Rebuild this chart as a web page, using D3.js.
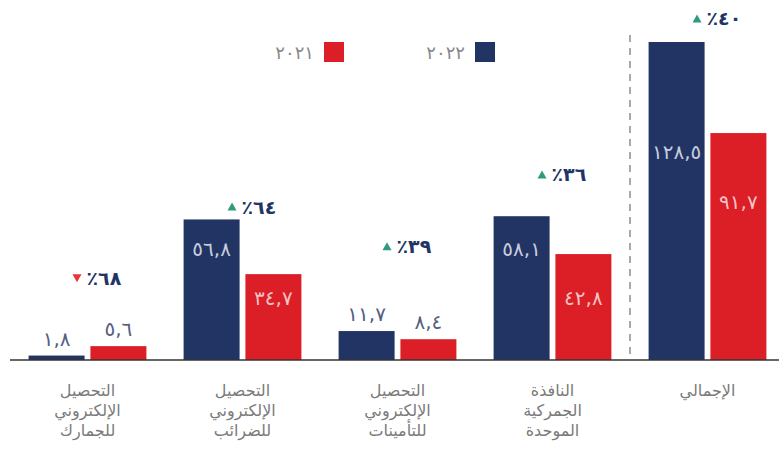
<!DOCTYPE html>
<html>
<head>
<meta charset="utf-8">
<script src="https://cdnjs.cloudflare.com/ajax/libs/d3/7.8.5/d3.min.js"></script>
<style>
  body { margin: 0; background: #fff; }
  svg text { font-family: "DejaVu Sans", sans-serif; }
</style>
</head>
<body>
<div id="myChart"></div>
<script>
// data
const categories = [
  ["التحصيل", "الإلكتروني", "للجمارك"],
  ["التحصيل", "الإلكتروني", "للضرائب"],
  ["التحصيل", "الإلكتروني", "للتأمينات"],
  ["النافذة", "الجمركية", "الموحدة"],
  ["الإجمالي"]
];
const series = ["2022", "2021"];
const seriesLabels = ["٢٠٢٢", "٢٠٢١"];
const values2022 = [1.8, 56.8, 11.7, 58.1, 128.5];
const values2021 = [5.6, 34.7, 8.4, 42.8, 91.7];
const labels2022 = ["١,٨", "٥٦,٨", "١١,٧", "٥٨,١", "١٢٨,٥"];
const labels2021 = ["٥,٦", "٣٤,٧", "٨,٤", "٤٢,٨", "٩١,٧"];
const changeLabels = ["٪٦٨", "٪٦٤", "٪٣٩", "٪٣٦", "٪٤٠"];
const changeUp = [false, true, true, true, true];
// where the annotations sit, in value units
const changeAt = [33, 62, 46, 75, 138];
const labelAt2022 = [null, 45, null, 45, 84];
const labelAt2021 = [null, 25, null, 25, 64];

const W = 779, H = 454;
const navy = "#223464", red = "#dc1e26";

let svg = d3.select("#myChart").append("svg")
  .attr("width", W)
  .attr("height", H);

let x0 = d3.scaleBand()
  .domain(d3.range(categories.length))
  .range([10, 785])
  .paddingInner(0.24)
  .paddingOuter(0.12);

let x1 = d3.scaleBand()
  .domain(series)
  .range([0, x0.bandwidth()])
  .paddingInner(0.094);

let y = d3.scaleLinear()
  .domain([0, 128.5])
  .range([360, 42]);

const colors = { "2022": navy, "2021": red };

let rows = [];
categories.forEach(function(c, i) {
  rows.push({ i: i, s: "2022", v: values2022[i], label: labels2022[i], at: labelAt2022[i] });
  rows.push({ i: i, s: "2021", v: values2021[i], label: labels2021[i], at: labelAt2021[i] });
});

// bars
svg.append("g").selectAll("rect")
  .data(rows)
  .enter()
  .append("rect")
  .attr("x", d => x0(d.i) + x1(d.s))
  .attr("y", d => y(d.v))
  .attr("width", x1.bandwidth())
  .attr("height", d => y(0) - y(d.v))
  .attr("fill", d => colors[d.s]);

// value labels
svg.append("g").selectAll("text")
  .data(rows)
  .enter()
  .append("text")
  .attr("x", d => x0(d.i) + x1(d.s) + x1.bandwidth() / 2)
  .attr("y", d => d.at == null ? y(d.v) - 10 : y(d.at) + 7)
  .attr("text-anchor", "middle")
  .attr("font-size", 20)
  .attr("fill", function(d) {
    if (d.at == null) return "#55607f";
    return d.s == "2022" ? "#c8cddd" : "#f3c3c5";
  })
  .text(d => d.label);

// baseline
svg.append("line")
  .attr("x1", 10).attr("x2", W)
  .attr("y1", y(0)).attr("y2", y(0))
  .attr("stroke", "#333")
  .attr("stroke-width", 1.5);

// dashed separator before total
let sepX = (x0(3) + x0.bandwidth() + x0(4)) / 2;
svg.append("line")
  .attr("x1", sepX).attr("x2", sepX)
  .attr("y1", 35).attr("y2", y(0))
  .attr("stroke", "#aaa")
  .attr("stroke-width", 2)
  .attr("stroke-dasharray", "7,6");

// change labels
let change = svg.append("g").selectAll("g")
  .data(changeLabels)
  .enter()
  .append("g")
  .attr("transform", (d, i) => "translate(" + (x0(i) + x0.bandwidth() / 2) + "," + y(changeAt[i]) + ")");

change.append("text")
  .attr("x", -1)
  .attr("y", 7)
  .attr("text-anchor", "start")
  .attr("font-size", 19)
  .attr("font-weight", "bold")
  .attr("fill", navy)
  .text(d => d);

change.append("path")
  .attr("d", (d, i) => changeUp[i] ? "M-15,4 L-10.5,-4 L-6,4 Z" : "M-15,-4 L-10.5,4 L-6,-4 Z")
  .attr("fill", (d, i) => changeUp[i] ? "#2e9b80" : "#e8343b");

// legend
let legend = svg.append("g").selectAll("g")
  .data(series)
  .enter()
  .append("g")
  .attr("transform", (d, i) => "translate(" + (i == 0 ? 475 : 324) + ",42)");

legend.append("rect")
  .attr("width", 20)
  .attr("height", 20)
  .attr("fill", d => colors[d]);

legend.append("text")
  .attr("x", -10)
  .attr("y", 17)
  .attr("text-anchor", "end")
  .attr("font-size", 18)
  .attr("fill", "#888")
  .text((d, i) => seriesLabels[i]);

// category labels
let cats = svg.append("g").selectAll("text")
  .data(categories)
  .enter()
  .append("text")
  .attr("text-anchor", "middle")
  .attr("font-size", 16)
  .attr("fill", "#7a7a7a");

cats.selectAll("tspan")
  .data((d, i) => d.map(t => ({ t: t, i: i })))
  .enter()
  .append("tspan")
  .attr("x", d => x0(d.i) + x0.bandwidth() / 2)
  .attr("y", (d, j) => 396 + j * 20)
  .text(d => d.t);
</script>
</body>
</html>
